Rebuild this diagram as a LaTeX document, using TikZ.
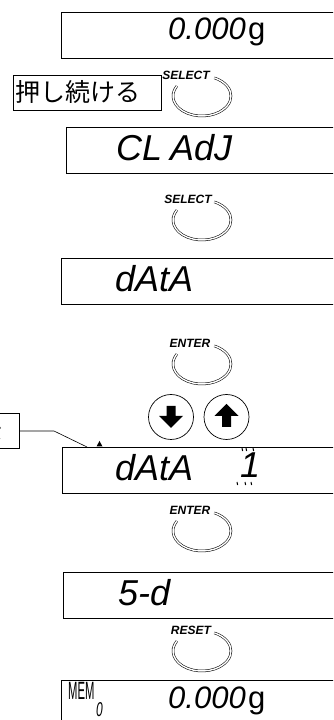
\documentclass[tikz,border=0pt]{standalone}
\usepackage{fontspec}
\setmainfont{Liberation Sans}
\newfontfamily\jpfont{Noto Sans CJK JP}
\usetikzlibrary{positioning,calc}
\tikzset{panel/.style={draw,line width=0.8pt,anchor=north west,minimum width=290pt,minimum height=46pt,inner sep=0pt},segtxt/.style={font=\fontsize{36}{36}\selectfont\itshape,anchor=base west,inner sep=0pt},digits/.style={font=\fontsize{31}{31}\selectfont\itshape,anchor=base west,inner sep=0pt},unit/.style={font=\fontsize{31}{31}\selectfont,inner sep=0pt},memtxt/.style={anchor=base west,inner sep=0pt},keylab/.style={font=\fontsize{12}{12}\selectfont\bfseries\itshape,inner sep=0pt},keyring/.style={double,double distance=1.4pt,line width=0.55pt},arrkey/.style={draw,circle,line width=0.7pt,minimum size=45pt,inner sep=0pt},notebox/.style={draw,line width=0.6pt,font=\jpfont\fontsize{25}{25}\selectfont,minimum height=35pt,inner ysep=0pt},blink/.style={line width=1pt}}

\begin{document}
\begin{tikzpicture}[x=1pt,y=1pt]
\useasboundingbox (0,0) rectangle (333,720);
\clip (0,0) rectangle (333,720);
% display panels
\node[panel] (disp1) at (61,708) {};
\node[panel] (disp2) at (66,593) {};
\node[panel] (disp3) at (61,462) {};
\node[panel] (disp4) at (62,273) {};
\node[panel] (disp5) at (63,148) {};
\node[panel] (disp6) at (61,40) {};
% panel readings
\node[digits] (w1) at (168,680) {0.000};
\node[unit,right=2pt of w1.base east,anchor=base west] (g1) {g};
\node[segtxt] (t2) at (116,559) {CL\hspace{8pt}AdJ};
\node[segtxt] (t3) at (115,428) {dAtA};
\node[segtxt] (t4) at (115,239) {dAtA};
\node[segtxt] (t4n) at (240,242) {1};
\node[segtxt] (t5) at (118,114) {5-d};
\node[digits] (w6) at (168,12) {0.000};
\node[unit,right=2pt of w6.base east,anchor=base west] (g6) {g};
\node[memtxt,font=\fontsize{25}{25}\selectfont] (mem) at (68,20) {\scalebox{0.45}[1]{MEM}};
\node[memtxt,font=\fontsize{20}{20}\selectfont\itshape] (mem0) at (96,3) {\scalebox{0.6}[1]{0}};
% blinking digit marks
\foreach \x in {242,246,253} \draw[blink] (\x,272) -- ++(0.6,-3);
\foreach \x in {237,245,251} \draw[blink] (\x,238) -- ++(0.6,-3);
% hold note
\node[notebox,text width=142pt,align=left,inner xsep=3pt] (hold) at (87,627.5) {押し続ける};
% keys
\node[keylab] (sel1) at (186,645) {SELECT};
\draw[keyring] (sel1.center) ++(16,-21) ++(150:29pt and 20pt) arc[start angle=150,end angle=425,x radius=29pt,y radius=20pt];
\node[keylab] (sel2) at (188,521) {SELECT};
\draw[keyring] (sel2.center) ++(14,-21) ++(150:29pt and 20pt) arc[start angle=150,end angle=425,x radius=29pt,y radius=20pt];
\node[keylab] (ent1) at (190,377) {ENTER};
\draw[keyring] (ent1.center) ++(12,-21) ++(150:29pt and 20pt) arc[start angle=150,end angle=425,x radius=29pt,y radius=20pt];
\node[keylab] (ent2) at (190,210) {ENTER};
\draw[keyring] (ent2.center) ++(12,-21) ++(150:29pt and 20pt) arc[start angle=150,end angle=425,x radius=29pt,y radius=20pt];
\node[keylab] (rst) at (191,90) {RESET};
\draw[keyring] (rst.center) ++(11,-21) ++(150:29pt and 20pt) arc[start angle=150,end angle=425,x radius=29pt,y radius=20pt];
% arrow keys
\node[arrkey] (dn) at (171,303) {};
\node[arrkey] (up) at (226.5,303) {};
\fill (dn.center) ++(-4.5,11) -- ++(9,0) -- ++(0,-10) -- ++(7.5,0) -- ++(-12,-12) -- ++(-12,12) -- ++(7.5,0) -- cycle;
\fill (up.center) ++(-4.5,-10) -- ++(9,0) -- ++(0,11) -- ++(7.5,0) -- ++(-12,12) -- ++(-12,-12) -- ++(7.5,0) -- cycle;
% callout to the marker
\node[notebox,anchor=east,inner xsep=17pt] (note) at (20,289) {表示};
\coordinate (bend) at (54,289);
\coordinate (mark) at (87,273);
\draw[line width=0.6pt] (note.east) -- (bend) -- (mark);
\fill (96.5,273.5) -- (102.5,273.5) -- (99.5,279) -- cycle;
\end{tikzpicture}
\end{document}
